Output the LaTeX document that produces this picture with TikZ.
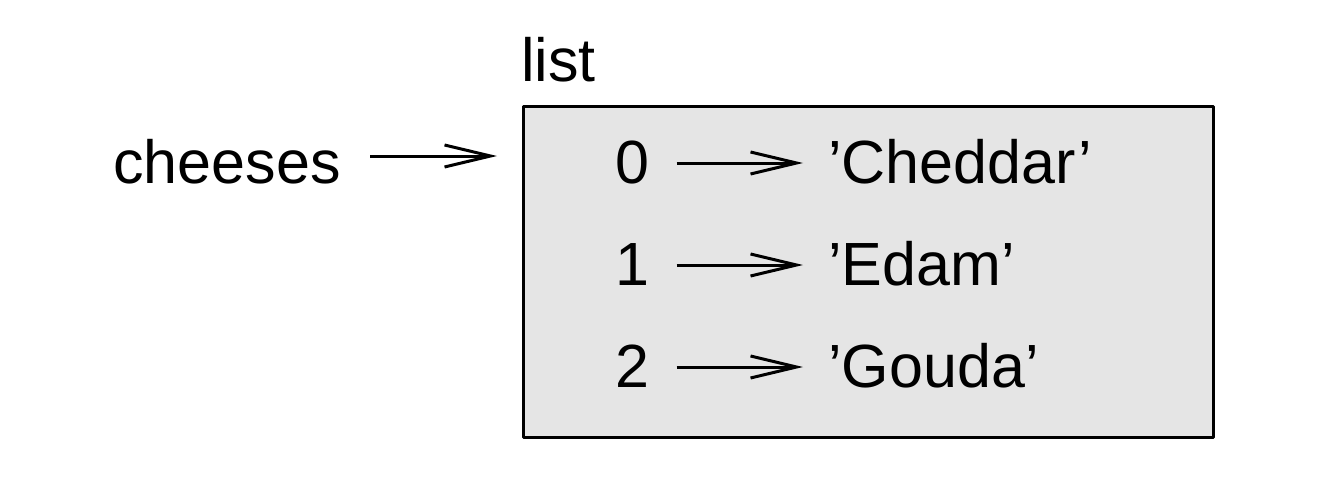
\documentclass[tikz,border=0pt]{standalone}
\usepackage{fontspec}
\setmainfont{Liberation Sans}
\usetikzlibrary{arrows.meta}
\definecolor{boxgray}{HTML}{E5E5E5}
\tikzset{
  word/.style={inner sep=0pt, anchor=base west},
  ptr/.style={-{Straight Barb[length=23pt,width=11pt]}, line width=1.5pt},
  listbox/.style={draw, fill=boxgray, line width=1.3pt, inner sep=0pt, anchor=north west}
}
\begin{document}
\begin{tikzpicture}[x=0.5pt, y=-0.5pt, font=\fontsize{30.5}{36}\selectfont, line join=round]
            \useasboundingbox (0,0) rectangle (1330,482);
            \node[listbox, minimum width=345pt, minimum height=165.5pt] (box) at (522,105) {};
            \node[word] (type) at (521,82) {list};
            \node[word] (cheeses) at (113,183) {cheeses};
            \draw[ptr, shorten <=14.5pt, shorten >=12.5pt] ([yshift=13.5pt]cheeses.base east) -- ([yshift=13.5pt]cheeses.base east -| box.west);
            % one row per element
            \foreach \i/\s in {0/Cheddar,1/Edam,2/Gouda}{
                \node[word] (idx\i) at (615,183+102*\i) {\i};
                \node[word] (str\i) at (828,183+102*\i) {’\s’};
                \draw[ptr, shorten <=13.5pt, shorten >=12.5pt] ([yshift=10pt]idx\i.base east) -- ([yshift=10pt]str\i.base west);
            }
        \end{tikzpicture}
\end{document}
